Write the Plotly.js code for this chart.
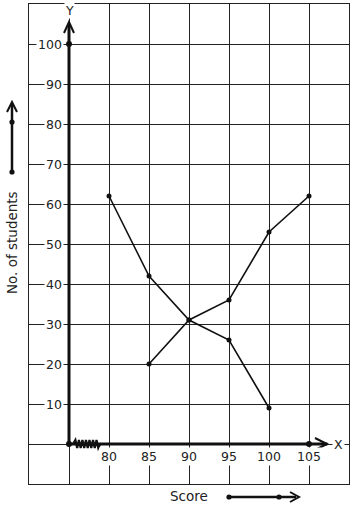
<!DOCTYPE html>
<html>
<head>
<meta charset="utf-8">
<script src="https://cdn.plot.ly/plotly-3.0.1.min.js"></script>
<style>
html,body{margin:0;padding:0;background:#fff;}
#chart{width:354px;height:510px;}
</style>
</head>
<body>
<div id="chart"></div>
<script>
// ---- data ----
const scoresA = [80, 85, 90, 95, 100];
const studentsA = [62, 42, 31, 26, 9];
const scoresB = [85, 90, 95, 100, 105];
const studentsB = [20, 31, 36, 53, 62];
const xTickVals = [80, 85, 90, 95, 100, 105];
const yTickVals = [10, 20, 30, 40, 50, 60, 70, 80, 90, 100];
const axisDots = {x: [75, 75, 105], y: [0, 100, 0]};

const FONT = 'DejaVu Sans, sans-serif';
const INK = '#111';
const TICK_SIZE = 12.5;
const TITLE_SIZE = 13.5;

const traces = [
  {x: scoresA, y: studentsA, mode: 'lines+markers', type: 'scatter',
   line: {color: INK, width: 1.6}, marker: {color: INK, size: 5}, cliponaxis: false, hoverinfo: 'skip'},
  {x: scoresB, y: studentsB, mode: 'lines+markers', type: 'scatter',
   line: {color: INK, width: 1.6}, marker: {color: INK, size: 5}, cliponaxis: false, hoverinfo: 'skip'},
  {x: axisDots.x, y: axisDots.y, mode: 'markers', type: 'scatter',
   marker: {color: INK, size: 6}, cliponaxis: false, hoverinfo: 'skip'}
];

// paper helpers (plot area: x 29..349, y 4..484)
const px = v => (v - 29) / 320;
const py = v => (484 - v) / 480;

const shapes = [];
// thick axes
shapes.push({type: 'line', xref: 'x', yref: 'y', x0: 75, y0: 0, x1: 75, y1: 104.8, line: {color: INK, width: 3}, layer: 'above'});
shapes.push({type: 'path', xref: 'paper', yref: 'paper',
  path: `M ${px(64)},${py(33)} L ${px(69)},${py(22)} L ${px(74)},${py(33)}`, line: {color: INK, width: 2}});
shapes.push({type: 'line', xref: 'x', yref: 'y', x0: 75, y0: 0, x1: 107.3, y1: 0, line: {color: INK, width: 3}, layer: 'above'});
shapes.push({type: 'path', xref: 'paper', yref: 'paper',
  path: `M ${px(315)},${py(438)} L ${px(327)},${py(444)} L ${px(315)},${py(450)}`, line: {color: INK, width: 2}});
// zigzag break symbol
let zz = 'M 75.5,0';
let up = true;
for (let xx = 75.8; xx <= 78.8; xx += 0.22) {
  zz += ` L ${xx.toFixed(3)},${up ? 1.0 : -1.0}`;
  up = !up;
}
zz += ' L 78.9,0';
shapes.push({type: 'path', xref: 'x', yref: 'y', path: zz, line: {color: INK, width: 2.2}, layer: 'above'});

// y title arrow
shapes.push({type: 'line', xref: 'paper', yref: 'paper', x0: px(12), y0: py(173), x1: px(12), y1: py(104), line: {color: INK, width: 2.5}});
shapes.push({type: 'path', xref: 'paper', yref: 'paper',
  path: `M ${px(7)},${py(112)} L ${px(12)},${py(102)} L ${px(17)},${py(112)}`, line: {color: INK, width: 2}});
// x title arrow
shapes.push({type: 'line', xref: 'paper', yref: 'paper', x0: px(229), y0: py(497), x1: px(296), y1: py(497), line: {color: INK, width: 2.5}});
shapes.push({type: 'path', xref: 'paper', yref: 'paper',
  path: `M ${px(290)},${py(492)} L ${px(299)},${py(497)} L ${px(290)},${py(502)}`, line: {color: INK, width: 2}});
// dots on title arrows
function dot(cx, cy, r) {
  shapes.push({type: 'circle', xref: 'paper', yref: 'paper', fillcolor: INK, line: {color: INK, width: 0},
    x0: px(cx - r), x1: px(cx + r), y0: py(cy + r), y1: py(cy - r)});
}
dot(12, 122, 2.6); dot(12, 172, 2.6); dot(229, 497, 2.6); dot(279, 497, 2.6);

const annotations = [];
yTickVals.forEach(v => annotations.push({
  x: 74.4, y: v, xref: 'x', yref: 'y', text: String(v), showarrow: false,
  xanchor: 'right', yanchor: 'middle', bgcolor: '#fff', borderpad: 1,
  font: {family: FONT, size: TICK_SIZE, color: '#222'}
}));
xTickVals.forEach(v => annotations.push({
  x: v, y: -3.1, xref: 'x', yref: 'y', text: String(v), showarrow: false,
  xanchor: 'center', yanchor: 'middle', bgcolor: '#fff', borderpad: 1,
  font: {family: FONT, size: TICK_SIZE, color: '#222'}
}));
annotations.push({x: 75, y: py(11), xref: 'x', yref: 'paper', text: 'Y', showarrow: false,
  xanchor: 'center', yanchor: 'middle', bgcolor: '#fff', borderpad: 0, font: {family: FONT, size: TICK_SIZE, color: '#222'}});
annotations.push({x: px(338), y: 0, xref: 'paper', yref: 'y', text: 'X', showarrow: false,
  xanchor: 'center', yanchor: 'middle', bgcolor: '#fff', borderpad: 1, font: {family: FONT, size: TICK_SIZE, color: '#222'}});
annotations.push({x: px(12), y: py(243), xref: 'paper', yref: 'paper', text: 'No. of students', showarrow: false,
  textangle: -90, xanchor: 'center', yanchor: 'middle', font: {family: FONT, size: TITLE_SIZE, color: '#222'}});
annotations.push({x: px(189), y: py(496), xref: 'paper', yref: 'paper', text: 'Score', showarrow: false,
  xanchor: 'center', yanchor: 'middle', font: {family: FONT, size: TITLE_SIZE, color: '#222'}});

const layout = {
  width: 354, height: 510,
  margin: {l: 29, r: 5, t: 4, b: 26, pad: 0},
  paper_bgcolor: '#fff', plot_bgcolor: '#fff',
  showlegend: false,
  xaxis: {range: [70, 110], dtick: 5, tick0: 70, showgrid: true, gridcolor: '#222', gridwidth: 1,
    zeroline: false, showticklabels: false, ticks: '', showline: true, mirror: true, linecolor: '#222', linewidth: 1, fixedrange: true},
  yaxis: {range: [-10, 110], dtick: 10, tick0: 0, showgrid: true, gridcolor: '#222', gridwidth: 1,
    zeroline: false, showticklabels: false, ticks: '', showline: true, mirror: true, linecolor: '#222', linewidth: 1, fixedrange: true},
  shapes: shapes,
  annotations: annotations
};

Plotly.newPlot('chart', traces, layout, {displayModeBar: false, staticPlot: true});
</script>
</body>
</html>
